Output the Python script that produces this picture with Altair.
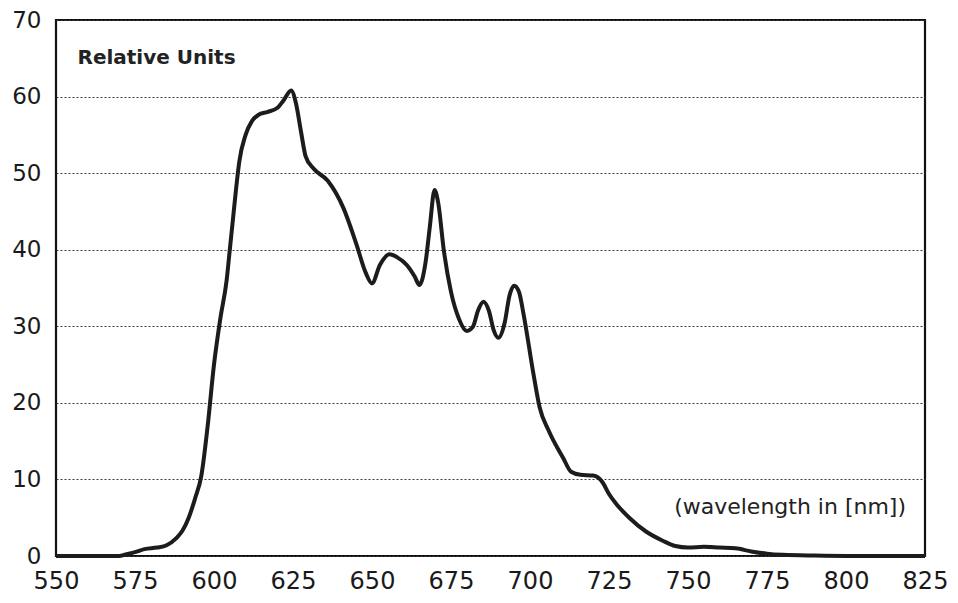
import altair as alt
import pandas as pd

# Spectrum
wavelength = [550, 560, 565, 570, 572, 575, 578, 582, 585, 588, 590, 592, 594, 596, 598,
              600, 602, 604, 605, 606, 607, 608, 610, 612, 614, 617, 620, 622, 624.4, 626,
              627.5, 629, 631.5, 636, 641, 645, 648, 650, 652.5, 655.5, 658, 661, 663.5,
              665, 667, 668.3, 669.8, 671, 672.7, 675, 677.5, 680, 682, 683.5, 685.3, 687,
              688.5, 690, 692, 693.5, 695, 696.5, 698, 701, 703, 706, 710.5, 713, 716, 720,
              723, 725, 727.3, 731.4, 736.7, 742, 746, 750, 755, 760, 765, 770, 775, 780,
              790, 800, 825]
relative = [0, 0, 0, 0, 0.2, 0.5, 0.9, 1.1, 1.4, 2.3, 3.3, 5, 7.5, 10.5, 17,
            25, 31, 36, 40, 44, 48, 51.5, 55, 56.8, 57.6, 58, 58.5, 59.5, 60.8, 59,
            55.5, 52.2, 50.6, 49, 45.4, 40.8, 37, 35.6, 38, 39.4, 39, 38, 36.5,
            35.4, 38.5, 43, 47.8, 46, 40, 34.5, 31, 29.4, 30, 32, 33.2, 32,
            29.5, 28.5, 30.5, 34, 35.3, 34.5, 31.5, 24, 19.5, 16.3, 12.8, 11, 10.6, 10.5,
            9.6, 8.1, 6.8, 5.0, 3.2, 2.0, 1.3, 1.1, 1.2, 1.1, 1.0, 0.6, 0.3, 0.15,
            0.05, 0, 0]

x_ticks = [550, 575, 600, 625, 650, 675, 700, 725, 750, 775, 800, 825]
y_ticks = [0, 10, 20, 30, 40, 50, 60, 70]

notes_text = ["Relative Units", "(wavelength in [nm])"]
notes_x = [556.8, 819]
notes_y = [65.0, 6.4]

df = pd.DataFrame({"nm": wavelength, "val": relative})
FONT = "DejaVu Sans"

xs = alt.Scale(domain=[550, 825], nice=False, zero=False)
ys = alt.Scale(domain=[0, 70], nice=False)

line = alt.Chart(df).mark_line(
    color="#1c1c1c", strokeWidth=4, interpolate="monotone", strokeJoin="round"
).encode(
    x=alt.X("nm:Q", scale=xs, axis=alt.Axis(
        values=x_ticks, title=None, grid=False, ticks=False, domain=False,
        labelFont=FONT, labelFontSize=24, labelColor="#1a1a1a", labelPadding=13,
        labelFlush=False, format="d")),
    y=alt.Y("val:Q", scale=ys, axis=alt.Axis(
        values=y_ticks, title=None, grid=True, gridDash=[2, 2], gridColor="#3a3a3a",
        gridWidth=1, ticks=False, domain=False,
        labelFont=FONT, labelFontSize=23, labelColor="#1a1a1a", labelPadding=15,
        labelFlush=False, format="d")),
)

notes = pd.DataFrame({"t": notes_text, "x": notes_x, "y": notes_y})
rel = alt.Chart(notes.iloc[[0]]).mark_text(
    align="left", baseline="middle", font=FONT, fontSize=20, fontWeight="bold",
    color="#222"
).encode(x=alt.X("x:Q", scale=xs), y=alt.Y("y:Q", scale=ys), text="t:N")
wl = alt.Chart(notes.iloc[[1]]).mark_text(
    align="right", baseline="middle", font=FONT, fontSize=22, color="#222"
).encode(x=alt.X("x:Q", scale=xs), y=alt.Y("y:Q", scale=ys), text="t:N")

chart = alt.layer(line, rel, wl).properties(
    width=869, height=536,
    autosize=alt.AutoSizeParams(type="none"),
    padding={"left": 48, "top": 12, "right": 25, "bottom": 38},
    background="white",
).configure_view(stroke="#111", strokeWidth=2.2)

chart.save("out.html", embed_options={"renderer": "svg", "actions": False})
